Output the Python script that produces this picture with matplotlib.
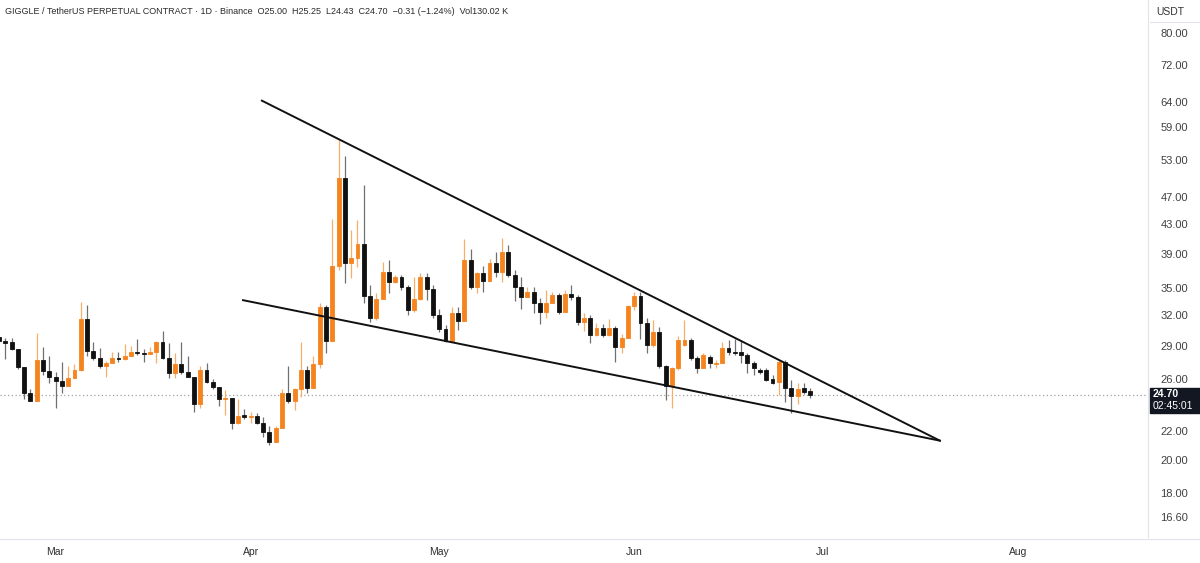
import pandas as pd
import numpy as np
import matplotlib
matplotlib.use("Agg")
import matplotlib.pyplot as plt
from matplotlib.patches import Rectangle

# daily candles, GIGGLE/USDT perp
start_date = "2025-02-20"
opens = [29.8, 29.4, 29.3, 28.7, 27.05, 24.86, 24.22, 27.67, 26.7, 26.19,
         25.85, 25.43, 26.1, 26.79, 31.61, 28.45, 27.85, 27.13, 27.4, 27.85,
         27.76, 28.03, 28.4, 28.3, 28.25, 28.4, 29.34, 27.85, 26.53, 27.31,
         26.62, 26.19, 23.98, 26.79, 25.77, 25.35, 24.38, 24.46, 22.55, 23.13,
         22.99, 23.06, 22.55, 21.91, 21.2, 22.19, 24.86, 24.22, 25.18, 26.79,
         25.27, 27.31, 32.87, 29.43, 37.55, 49.96, 37.92, 38.54, 40.32, 34.06,
         31.72, 33.73, 36.82, 35.65, 36.24, 35.08, 32.55, 33.73, 36.24, 34.84,
         32.03, 30.6, 29.43, 32.24, 31.41, 38.29, 35.08, 36.7, 35.76, 37.92,
         36.82, 39.3, 36.47, 35.08, 33.95, 34.5, 33.3, 32.34, 33.3, 34.17,
         32.34, 34.28, 33.95, 31.31, 31.72, 30.01, 30.7, 30.01, 30.7, 28.86,
         29.72, 32.98, 34.06, 31.2, 29.05, 30.3, 27.13, 25.43, 26.96, 29.05,
         29.53, 27.85, 26.96, 27.94, 27.35, 27.4, 28.77, 28.4, 28.4, 28.12,
         27.4, 26.79, 26.79, 26.02, 25.77, 27.49, 25.27, 24.62, 25.27, 25.0]
highs = [29.9, 29.7, 29.7, 28.7, 27.05, 25.18, 30.2, 28.86, 28.03, 26.62,
         27.49, 27.13, 27.31, 33.4, 33.1, 29.34, 28.77, 27.58, 28.4, 28.4,
         29.15, 28.96, 29.63, 28.67, 28.86, 29.43, 30.4, 29.24, 28.3, 29.34,
         28.03, 26.19, 27.13, 27.4, 26.02, 25.35, 25.1, 24.46, 24.38, 23.6,
         23.37, 23.29, 22.99, 22.34, 22.34, 25.18, 27.13, 25.3, 29.34, 27.13,
         28.03, 33.3, 33.1, 43.73, 56.52, 53.66, 42.2, 43.59, 48.84, 35.3,
         34.39, 38.04, 38.29, 36.47, 36.47, 35.3, 36.24, 36.7, 36.7, 35.3,
         32.66, 31.0, 32.87, 32.87, 40.98, 39.68, 36.82, 37.55, 38.42, 39.3,
         41.11, 40.19, 37.06, 36.24, 35.08, 35.08, 33.84, 34.73, 34.5, 34.39,
         34.73, 35.3, 34.17, 32.24, 32.03, 31.2, 31.1, 31.61, 30.9, 30.11,
         33.08, 34.5, 34.5, 31.72, 31.51, 30.8, 27.22, 27.05, 29.9, 31.51,
         29.72, 28.03, 28.3, 28.12, 27.67, 29.34, 29.53, 29.63, 29.53, 28.3,
         27.58, 26.96, 26.96, 26.36, 27.67, 27.67, 25.93, 25.68, 25.68, 25.25]
lows = [29.3, 27.8, 28.6, 26.9, 24.4, 24.2, 24.2, 26.36, 25.68, 23.67,
        24.86, 25.43, 26.1, 26.7, 28.03, 27.67, 26.96, 26.19, 27.4, 27.49,
        27.67, 28.0, 28.12, 27.49, 28.2, 27.4, 27.76, 26.1, 26.1, 26.45,
        26.19, 23.37, 23.67, 25.68, 25.18, 23.83, 23.14, 22.12, 22.48, 22.84,
        22.55, 22.48, 21.56, 20.99, 21.2, 22.19, 24.06, 23.52, 24.54, 24.86,
        25.27, 26.96, 28.3, 29.4, 37.06, 35.53, 36.12, 37.43, 33.3, 31.3,
        31.51, 33.73, 34.39, 35.53, 34.73, 32.03, 32.34, 33.62, 33.62, 31.72,
        30.3, 29.34, 29.43, 30.5, 31.41, 34.84, 34.39, 34.5, 35.76, 36.24,
        35.65, 36.24, 33.51, 32.66, 33.95, 32.24, 31.1, 31.72, 33.3, 32.13,
        32.34, 33.62, 31.0, 30.4, 29.24, 29.9, 29.82, 29.9, 27.49, 28.3,
        29.72, 32.55, 29.63, 28.3, 28.86, 26.96, 24.3, 23.67, 26.79, 28.96,
        27.67, 26.53, 26.96, 26.96, 26.96, 27.4, 28.12, 28.12, 27.4, 26.53,
        26.36, 26.45, 25.85, 25.6, 24.7, 24.14, 23.29, 23.98, 24.78, 24.43]
closes = [29.4, 29.2, 28.7, 27.05, 24.86, 24.22, 27.67, 26.7, 26.19, 25.85,
          25.43, 26.1, 26.79, 31.61, 28.45, 27.85, 27.13, 27.4, 27.85, 27.76,
          28.03, 28.4, 28.3, 28.25, 28.4, 29.34, 27.85, 26.53, 27.31, 26.62,
          26.19, 23.98, 26.79, 25.77, 25.35, 24.38, 24.46, 22.55, 23.06, 22.99,
          23.06, 22.55, 21.91, 21.2, 22.19, 24.86, 24.22, 25.18, 26.79, 25.27,
          27.31, 32.87, 29.43, 37.55, 49.96, 37.92, 38.54, 40.32, 34.06, 31.72,
          33.73, 36.82, 35.65, 36.24, 35.08, 32.55, 33.73, 36.24, 34.84, 32.03,
          30.6, 29.43, 32.24, 31.41, 38.29, 35.08, 36.7, 35.76, 37.92, 36.82,
          39.3, 36.47, 35.08, 33.95, 34.5, 33.3, 32.34, 33.3, 34.17, 32.34,
          34.28, 33.95, 31.31, 31.72, 30.01, 30.7, 30.01, 30.7, 28.86, 29.72,
          32.98, 34.06, 31.2, 29.05, 30.3, 27.13, 25.43, 26.96, 29.53, 29.53,
          27.85, 26.96, 28.12, 27.4, 27.44, 28.77, 28.4, 28.3, 28.12, 27.4,
          26.96, 26.62, 25.93, 25.68, 27.49, 25.27, 24.62, 25.18, 24.94, 24.7]

# falling wedge lines (day offset, price)
upper_line_x = [41.8, 149.6]
upper_line_y = [64.2, 21.3]
lower_line_x = [38.8, 149.6]
lower_line_y = [33.6, 21.3]

price_ticks = [16.6, 18, 20, 22, 26, 29, 32, 35, 39, 43, 47, 53, 59, 64, 72, 80]
last_price = 24.70
countdown = "02:45:01"
header = ("GIGGLE / TetherUS PERPETUAL CONTRACT \u00b7 1D \u00b7 Binance  O25.00  H25.25  "
          "L24.43  C24.70  \u22120.31 (\u22121.24%)  Vol130.02 K")

dates = pd.date_range(start_date, periods=len(opens), freq="D")
t0 = dates[0]
x = np.array([(d - t0).days for d in dates], dtype=float)
o = np.array(opens); h = np.array(highs); l = np.array(lows); c = np.array(closes)
up = c >= o

months = pd.date_range("2025-03-01", "2025-08-01", freq="MS")
month_x = [(m - t0).days for m in months]
month_lbl = [m.strftime("%b") for m in months]

UP = "#F5841F"
UP_WICK = "#F6AE6A"
DN = "#111111"
DN_WICK = "#707070"

plt.rcParams["font.family"] = ["Liberation Sans", "DejaVu Sans"]

fig = plt.figure(figsize=(12, 5.63), dpi=100)
ax = fig.add_axes([0, 26 / 563, 1148 / 1200, 537 / 563])

ax.set_yscale("log")
ax.set_ylim(15.58, 89.0)
ax.set_xlim(0.16, 182.7)

# wicks
ax.vlines(x[up], l[up], h[up], color=UP_WICK, lw=0.9, zorder=2)
ax.vlines(x[~up], l[~up], h[~up], color=DN_WICK, lw=0.9, zorder=2)
# bodies
bw = 0.62
ax.bar(x[up], c[up] - o[up], bottom=o[up], width=bw, color=UP,
       edgecolor=UP, linewidth=0.6, zorder=3)
ax.bar(x[~up], o[~up] - c[~up], bottom=c[~up], width=bw, color=DN,
       edgecolor=DN, linewidth=0.6, zorder=3)

# wedge
ax.plot(upper_line_x, upper_line_y, color="#111111", lw=1.4, zorder=4)
ax.plot(lower_line_x, lower_line_y, color="#111111", lw=1.4, zorder=4)

# last price line
ax.axhline(last_price, color="#a0a0a0", lw=0.9, ls=(0, (1, 2)), zorder=1)

# axes styling
for s in ["top", "left", "bottom"]:
    ax.spines[s].set_visible(False)
ax.spines["right"].set_color("#e0e3eb")
ax.yaxis.tick_right()
ax.set_yticks(price_ticks)
ax.set_yticklabels([f"{p:.2f}" for p in price_ticks])
ax.yaxis.set_minor_locator(matplotlib.ticker.NullLocator())
ax.tick_params(axis="y", length=0, pad=9, labelsize=8, labelcolor="#404040")
ax.set_xticks(month_x)
ax.set_xticklabels(month_lbl)
ax.tick_params(axis="x", length=0, pad=7, labelsize=7.5, labelcolor="#303030")

# bottom separator
fig.add_artist(plt.Line2D([0, 1], [1 - 539 / 563] * 2, color="#e0e3eb", lw=0.8))

# header
fig.text(5 / 1200, 1 - 12 / 563, header, fontsize=6.5, color="#2a2a2a",
         va="center", ha="left")

# currency label
fig.text(1170 / 1200, 1 - 12 / 563, "USDT", fontsize=7.5, color="#333333",
         va="center", ha="center")
fig.add_artist(plt.Line2D([1150 / 1200, 1], [1 - 22 / 563] * 2, color="#e0e3eb", lw=0.8))

# last price badge
fig.add_artist(Rectangle((1150 / 1200, 1 - 413 / 563), 50 / 1200, 25 / 563,
                         transform=fig.transFigure, color="#131722"))
fig.text(1153 / 1200, 1 - 394 / 563, f"{last_price:.2f}", fontsize=7.5,
         color="white", weight="bold", va="center", ha="left")
fig.text(1153 / 1200, 1 - 406 / 563, countdown, fontsize=7.5,
         color="white", va="center", ha="left")

fig.savefig("out.png", dpi=100, facecolor="white")
